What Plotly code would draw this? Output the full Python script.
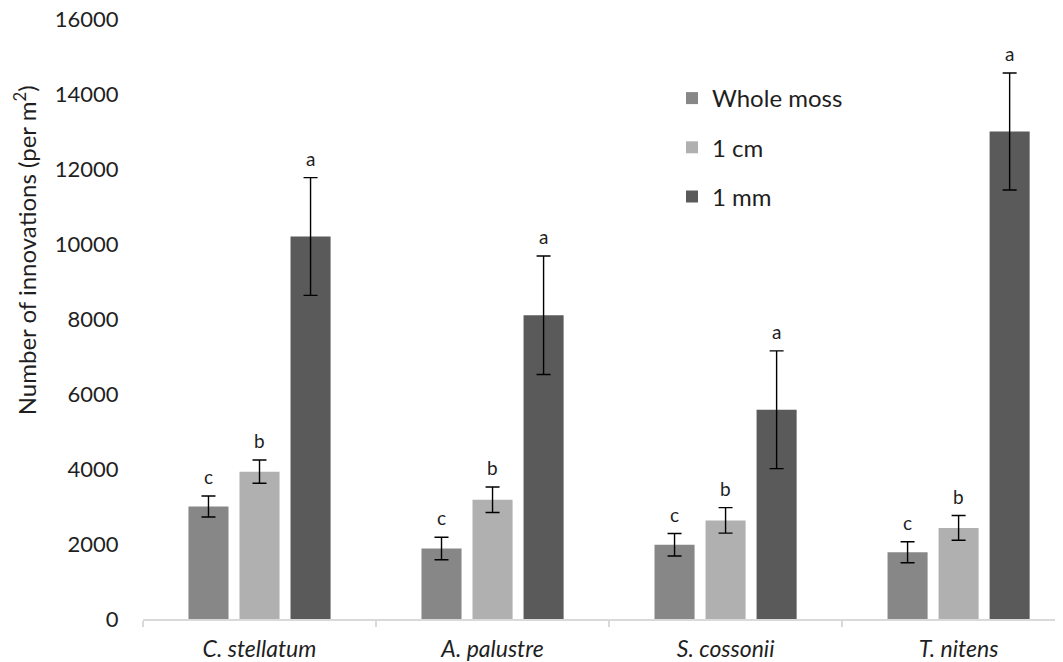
import plotly.graph_objects as go

species = ["C. stellatum", "A. palustre", "S. cossonii", "T. nitens"]
series_names = ["Whole moss", "1 cm", "1 mm"]
whole_moss = [3000, 1880, 1980, 1780]
whole_moss_err = [280, 300, 300, 280]
one_cm = [3930, 3180, 2630, 2430]
one_cm_err = [310, 340, 340, 330]
one_mm = [10200, 8100, 5580, 13000]
one_mm_err = [1570, 1580, 1570, 1560]
letters = [["c", "c", "c", "c"], ["b", "b", "b", "b"], ["a", "a", "a", "a"]]
colors = ["#878787", "#b0b0b0", "#5a5a5a"]
y_ticks = [0, 2000, 4000, 6000, 8000, 10000, 12000, 14000, 16000]
y_title = "Number of innovations (per m<sup>2</sup>)"

values = [whole_moss, one_cm, one_mm]
errors = [whole_moss_err, one_cm_err, one_mm_err]

FONT = "Lato"
TXT = "#1f1f1f"
BARGAP = 0.343
GROUPGAP = 0.215

fig = go.Figure()
for j, name in enumerate(series_names):
    fig.add_trace(go.Bar(
        x=species, y=values[j], name=name,
        marker=dict(color=colors[j], line=dict(width=0)),
        error_y=dict(type="data", array=errors[j], visible=True,
                     color="#000000", thickness=1.4, width=7),
        legendgroup=name,
    ))

slot = (1 - BARGAP) / len(series_names)
for j in range(len(series_names)):
    for i in range(len(species)):
        fig.add_annotation(
            x=i + (j - 1) * slot, y=values[j][i] + errors[j][i],
            xref="x", yref="y", text=letters[j][i], showarrow=False,
            yanchor="bottom", yshift=6,
            font=dict(family=FONT, size=19, color=TXT),
        )

# y-axis title, placed as in the reference (slightly above the axis centre)
fig.add_annotation(
    x=-0.128, y=0.615, xref="paper", yref="paper", text=y_title,
    textangle=-90, showarrow=False, xanchor="center", yanchor="middle",
    font=dict(family=FONT, size=24, color=TXT),
)

# the page body adds an 8px offset, so the figure is sized to fit the window
fig.update_layout(
    width=1055, height=654,
    margin=dict(l=135, r=0, t=11, b=43, autoexpand=False),
    paper_bgcolor="white", plot_bgcolor="white",
    barmode="group", bargap=BARGAP, bargroupgap=GROUPGAP,
    font=dict(family=FONT, size=22, color=TXT),
    showlegend=True,
    legend=dict(x=0.575, y=0.905, xanchor="left", yanchor="top",
                font=dict(family=FONT, size=24, color=TXT),
                tracegroupgap=15, bgcolor="rgba(0,0,0,0)"),
    xaxis=dict(
        range=[-0.5, 3.448], showline=True, linecolor="#d9d9d9", linewidth=1.5,
        ticks="outside", ticklen=6, tickcolor="#d9d9d9", tickwidth=1.5,
        tickson="boundaries", ticklabelstandoff=9, automargin=False,
        tickfont=dict(family=FONT, size=23, style="italic", color=TXT),
        showgrid=False, zeroline=False,
    ),
    yaxis=dict(
        range=[0, 16000], tickvals=y_ticks, tickformat="d",
        showgrid=False, zeroline=False, showline=False, automargin=False,
        ticks="outside", ticklen=19, tickcolor="rgba(0,0,0,0)",
        ticklabeloverflow="allow",
        tickfont=dict(family=FONT, size=22, color=TXT),
    ),
)

fig.write_html("out.html")
